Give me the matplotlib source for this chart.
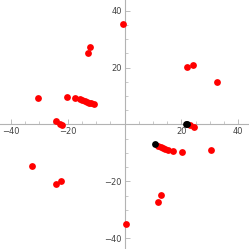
import numpy as np
import matplotlib
matplotlib.use("Agg")
import matplotlib.pyplot as plt
from matplotlib.ticker import MultipleLocator

# red points
red_x = [-0.5, -12.0, -12.9, -30.5, -20.3, -17.4,
         -15.6, -14.8, -14.0, -13.2, -12.5, -11.7, -10.9,
         -24.0, -22.6, -22.0,
         22.0, 24.0, 32.5, 23.2, 24.4,
         11.9, 12.7, 13.5, 14.3, 15.3, 17.1, 20.3, 30.5,
         12.7, 11.8, 0.4, -32.6, -22.2, -24.0]
red_y = [35.2, 27.4, 25.2, 9.2, 9.8, 9.4,
         8.9, 8.6, 8.3, 8.0, 7.7, 7.4, 7.1,
         1.2, 0.2, -0.1,
         20.1, 21.1, 14.8, -0.1, -0.8,
         -7.4, -7.9, -8.2, -8.6, -8.8, -9.3, -9.7, -8.9,
         -24.9, -27.3, -34.9, -14.6, -19.9, -20.9]

# black points
black_x = [10.8, 21.5, 22.1]
black_y = [-6.9, 0.1, 0.1]

LIM = 43.8
GRAY = "#b3b3b3"

fig = plt.figure(figsize=(2.49, 2.49), dpi=100)
ax = fig.add_axes([0, 0, 1, 1])
ax.scatter(red_x, red_y, s=24, color="#ff0000", zorder=3, linewidths=0)
ax.scatter(black_x, black_y, s=24, color="black", zorder=4, linewidths=0)

ax.set_xlim(-LIM, LIM)
ax.set_ylim(-LIM, LIM)

for side in ["top", "right"]:
    ax.spines[side].set_visible(False)
for side in ["left", "bottom"]:
    ax.spines[side].set_position(("data", 0))
    ax.spines[side].set_color(GRAY)
    ax.spines[side].set_linewidth(0.8)

ax.xaxis.set_major_locator(MultipleLocator(20))
ax.yaxis.set_major_locator(MultipleLocator(20))
ax.xaxis.set_minor_locator(MultipleLocator(5))
ax.yaxis.set_minor_locator(MultipleLocator(5))
ax.set_xticks([-40, -20, 20, 40])
ax.set_yticks([-40, -20, 20, 40])
ax.set_xticklabels(["\u221240", "\u221220", "20", "40"])
ax.set_yticklabels(["\u221240", "\u221220", "20", "40"])
ax.tick_params(which="major", direction="in", length=3.5, width=0.6, color=GRAY,
               labelsize=6, labelcolor="#444444", pad=2)
ax.tick_params(which="minor", direction="in", length=2, width=0.5, color=GRAY)

fig.savefig("out.png", dpi=100)
